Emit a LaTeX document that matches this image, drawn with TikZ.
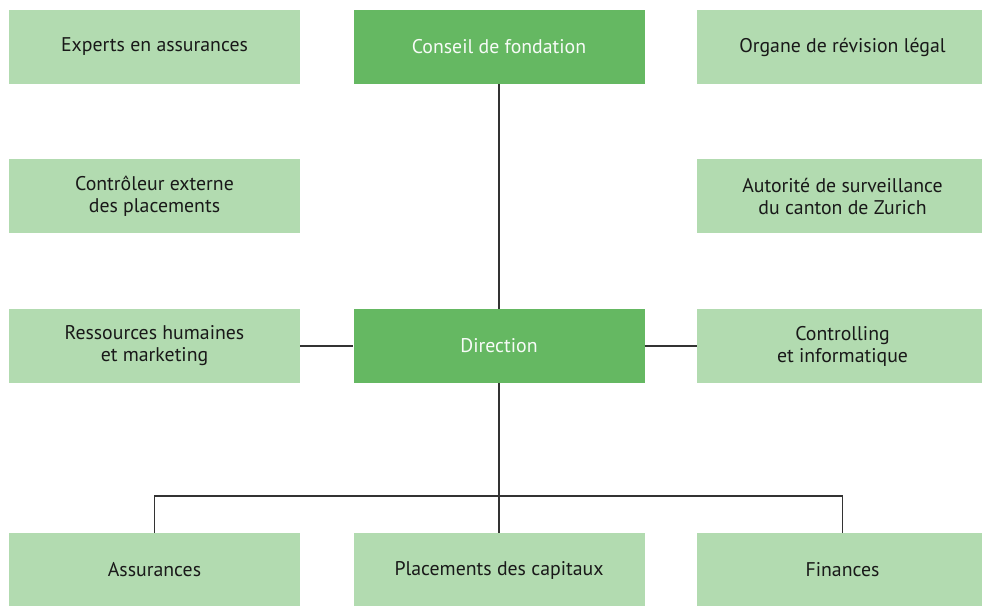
\documentclass[tikz,border=0pt]{standalone}
\usepackage{fontspec}
\setmainfont{PT Sans}
\definecolor{lightgreen}{RGB}{178,219,176}
\definecolor{darkgreen}{RGB}{101,184,98}
\definecolor{linegray}{RGB}{51,51,51}
\tikzset{
  box/.style={rectangle, fill=lightgreen, minimum width=291pt, minimum height=74pt,
    inner sep=0pt, align=center, font=\fontsize{19.8}{22}\selectfont, text=black!90},
  mainbox/.style={box, fill=darkgreen, text=white!95!darkgreen},
  link/.style={draw=linegray, line width=1.4pt}
}
\begin{document}
\begin{tikzpicture}[x=1pt, y=-1pt]
        \useasboundingbox (0,0) rectangle (982,605);

        \node[box] (experts) at (154.5,47) {Experts en assurances};
        \node[mainbox] (conseil) at (499,47) {Conseil de fondation};
        \node[box] (organe) at (842.5,47) {Organe de révision légal};
        \node[box] (controleur) at (154.5,196) {Contrôleur externe\\des placements};
        \node[box] (autorite) at (842.5,196) {Autorité de surveillance\\du canton de Zurich};
        \node[box] (rh) at (154.5,346) {Ressources humaines\\et marketing};
        \node[mainbox] (direction) at (499,346) {Direction};
        \node[box] (ctrl) at (842.5,346) {Controlling\\et informatique};
        \node[box] (ass) at (154.5,570) {Assurances};
        \node[box] (plc) at (499,570) {Placements des capitaux};
        \node[box] (fin) at (842.5,570) {Finances};
        \coordinate (bus) at (499,496);

        \draw[link] (conseil) -- (direction);
        \draw[link] (rh) -- (direction);
        \draw[link] (direction) -- (ctrl);
        \draw[link] (direction) -- (plc);
        \draw[link] (ass.north) |- (bus) -| (fin.north);
\end{tikzpicture}
\end{document}
